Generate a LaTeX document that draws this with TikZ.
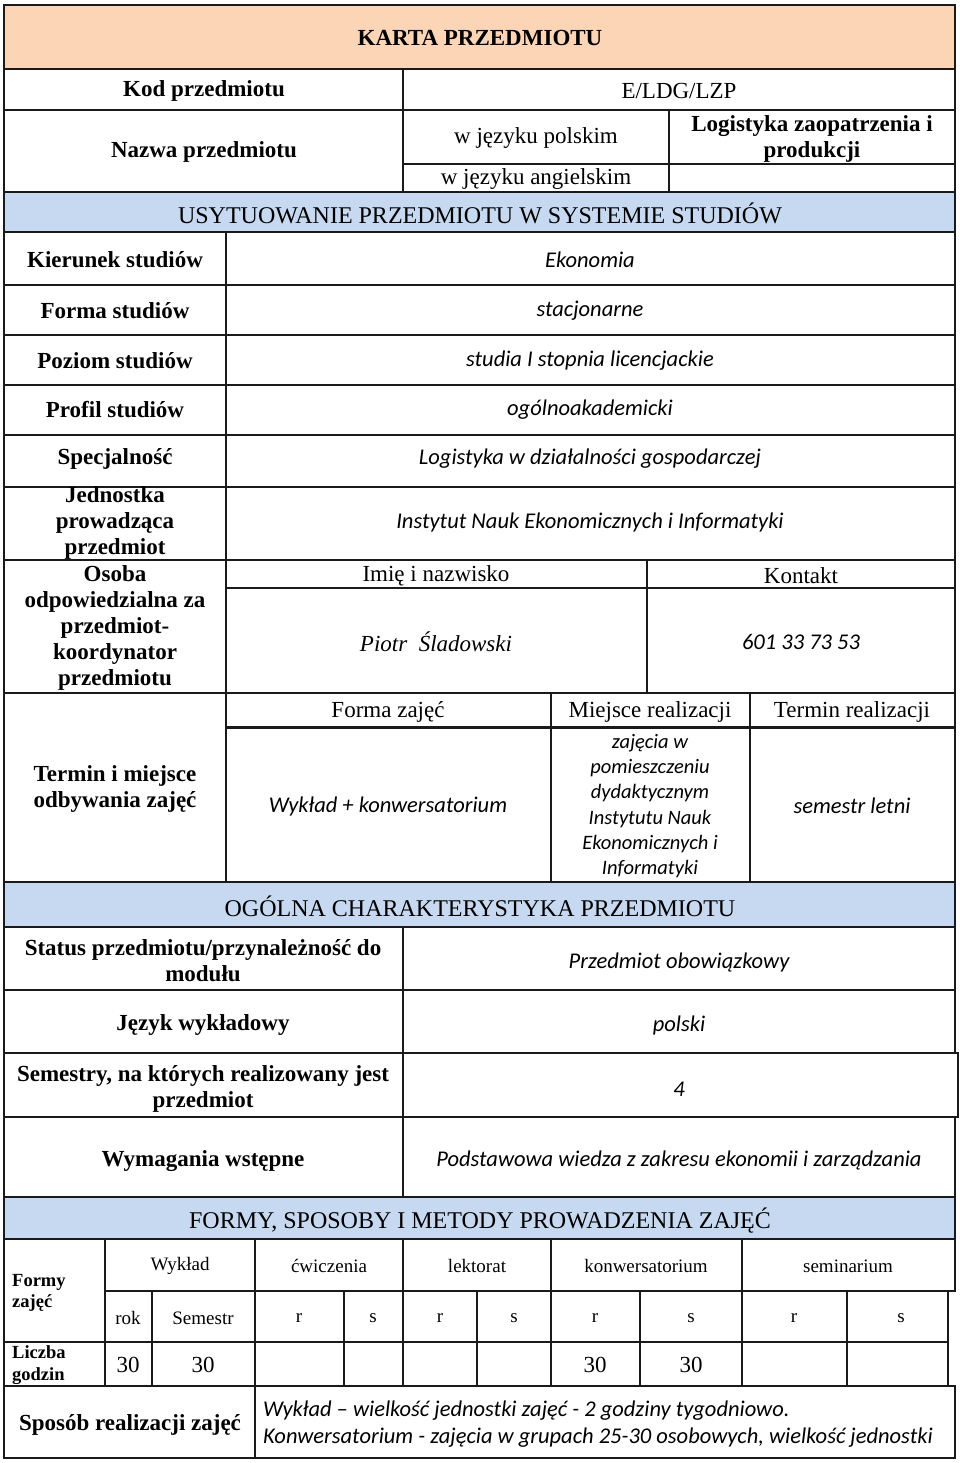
\documentclass[tikz,border=0pt]{standalone}
\usepackage{fontspec}
\setmainfont{Liberation Serif}
\newfontfamily\calfont{Carlito}
\definecolor{peach}{HTML}{FBD5B5}
\definecolor{bandblue}{HTML}{C6D9F1}
\definecolor{rule}{HTML}{1A1A1A}
\begin{document}
\begin{tikzpicture}[x=1pt,y=-1pt,
  grid/.style={line width=1.8pt, draw=rule, line cap=rect},
  thickgrid/.style={line width=3pt, draw=rule},
  lab/.style={font=\bfseries\fontsize{23}{26}\selectfont, align=center, inner sep=0pt},
  hdr/.style={font=\fontsize{23}{26}\selectfont, align=center, inner sep=0pt},
  band/.style={font=\fontsize{24}{27}\selectfont, align=center, inner sep=0pt},
  val/.style={font=\calfont\itshape\fontsize{22.5}{26}\selectfont, align=center, inner sep=0pt},
  valsm/.style={font=\calfont\itshape\fontsize{20.5}{25.2}\selectfont, align=center, inner sep=0pt},
  small/.style={font=\fontsize{19}{22}\selectfont, align=center, inner sep=0pt},
  smlab/.style={font=\bfseries\fontsize{18.5}{21.5}\selectfont, align=left, inner sep=0pt},
  num/.style={font=\fontsize{23}{26}\selectfont, align=center, inner sep=0pt}]
\useasboundingbox (0,0) rectangle (960,1463);
\fill[white] (0,0) rectangle (960,1463);
% fills
\fill[peach] (4,5) rectangle (955,69);
\fill[bandblue] (4,192) rectangle (955,232);
\fill[bandblue] (4,882) rectangle (955,927);
\fill[bandblue] (4,1197) rectangle (955,1239);
% outer
\draw[grid] (4,5) -- (955,5);
\draw[grid] (4,5) -- (4,1458);
\draw[grid] (955,5) -- (955,1053);
\draw[grid] (958,1053) -- (958,1117);
\draw[grid] (955,1117) -- (955,1291);
\draw[grid] (948,1291) -- (948,1386);
\draw[grid] (955,1386) -- (955,1458);
\draw[grid] (4,1458) -- (955,1458);
% horizontal full rows
\foreach \yy in {69,110,192,232,285,335,385,435,487,560,693,882,927,990,1197,1239}
  \draw[grid] (4,\yy) -- (955,\yy);
\draw[grid] (4,1053) -- (958,1053);
\draw[grid] (4,1117) -- (958,1117);
\draw[grid] (105,1291) -- (955,1291);
\draw[grid] (4,1342) -- (948,1342);
\draw[grid] (4,1386) -- (955,1386);
% top section
\draw[grid] (403,69) -- (403,192);
\draw[grid] (669,110) -- (669,192);
\draw[grid] (403,164) -- (955,164);
% usytuowanie
\draw[grid] (226,232) -- (226,882);
\draw[grid] (226,588) -- (955,588);
\draw[grid] (647,560) -- (647,693);
\draw[grid] (551,693) -- (551,882);
\draw[grid] (750,693) -- (750,882);
\draw[thickgrid] (226,727) -- (955,727);
% ogolna
\draw[grid] (403,927) -- (403,1197);
% formy
\draw[grid] (105,1239) -- (105,1386);
\draw[grid] (255,1239) -- (255,1458);
\draw[grid] (403,1239) -- (403,1386);
\draw[grid] (551,1239) -- (551,1386);
\draw[grid] (742,1239) -- (742,1386);
\foreach \xx in {152,344,477,640,847}
  \draw[grid] (\xx,1291) -- (\xx,1386);

% texts
\node[lab] (title) at (480,38) {KARTA PRZEDMIOTU};
\node[lab] (kod) at (204,91) {Kod przedmiotu};
\node[hdr] (kodv) at (679,91) {E/LDG/LZP};
\node[lab] (nazwa) at (204,152) {Nazwa przedmiotu};
\node[hdr] (wpl) at (536,138) {w języku polskim};
\node[hdr] (wang) at (536,179) {w języku angielskim};
\node[lab] (nazpl) at (812,139) {Logistyka zaopatrzenia i\\produkcji};
\node[band] (usyt) at (480,213) {USYTUOWANIE PRZEDMIOTU W SYSTEMIE STUDIÓW};

\node[lab] (kier) at (115,260) {Kierunek studiów};
\node[val] (kierv) at (590,260) {Ekonomia};
\node[lab] (forma) at (115,311) {Forma studiów};
\node[val] (formav) at (590,311) {stacjonarne};
\node[lab] (poz) at (115,361) {Poziom studiów};
\node[val] (pozv) at (590,361) {studia I stopnia licencjackie};
\node[lab] (prof) at (115,410) {Profil studiów};
\node[val] (profv) at (590,410) {ogólnoakademicki};
\node[lab] (spec) at (115,459) {Specjalność};
\node[val] (specv) at (590,459) {Logistyka w działalności gospodarczej};
\node[lab] (jedn) at (115,523) {Jednostka\\prowadząca\\przedmiot};
\node[val] (jednv) at (590,522) {Instytut Nauk Ekonomicznych i Informatyki};
\node[lab] (osoba) at (115,628) {Osoba\\odpowiedzialna za\\przedmiot-\\koordynator\\przedmiotu};
\node[hdr] (imie) at (436,576) {Imię i nazwisko};
\node[hdr] (kont) at (801,576) {Kontakt};
\node[font=\itshape\fontsize{23}{26}\selectfont, inner sep=0pt] (piotr) at (436,642) {Piotr\ \ Śladowski};
\node[val] (tel) at (801,642) {601 33 73 53};
\node[lab] (termin) at (115,789) {Termin i miejsce\\odbywania zajęć};
\node[hdr] (fzaj) at (388,712) {Forma zajęć};
\node[hdr] (miej) at (650,712) {Miejsce realizacji};
\node[hdr] (term) at (852,712) {Termin realizacji};
\node[val] (wykl) at (388,806) {Wykład + konwersatorium};
\node[valsm] (miejv) at (650,806) {zajęcia w\\pomieszczeniu\\dydaktycznym\\Instytutu Nauk\\Ekonomicznych i\\Informatyki};
\node[val] (termv) at (852,806) {semestr letni};
\node[band] (ogol) at (480,906) {OGÓLNA CHARAKTERYSTYKA PRZEDMIOTU};

\node[lab] (status) at (203,961) {Status przedmiotu/przynależność do\\modułu};
\node[val] (statusv) at (679,962) {Przedmiot obowiązkowy};
\node[lab] (jez) at (203,1025) {Język wykładowy};
\node[val] (jezv) at (679,1025) {polski};
\node[lab] (sem) at (203,1089) {Semestry, na których realizowany jest\\przedmiot};
\node[val] (semv) at (679,1089) {4};
\node[lab] (wym) at (203,1161) {Wymagania wstępne};
\node[val] (wymv) at (679,1160) {Podstawowa wiedza z zakresu ekonomii i zarządzania};
\node[band] (formy) at (480,1221) {FORMY, SPOSOBY I METODY PROWADZENIA ZAJĘĆ};

\node[smlab, anchor=west] (fz) at (12,1293) {Formy\\zajęć};
\node[small] (h1) at (180,1266) {Wykład};
\node[small] (h2) at (329,1266) {ćwiczenia};
\node[small] (h3) at (477,1266) {lektorat};
\node[small] (h4) at (646,1266) {konwersatorium};
\node[small] (h5) at (848,1266) {seminarium};
\node[small] (s1) at (128,1318) {rok};
\node[small] (s2) at (203,1318) {Semestr};
\node[small] (s3) at (299,1318) {r};
\node[small] (s4) at (373,1318) {s};
\node[small] (s5) at (440,1318) {r};
\node[small] (s6) at (514,1318) {s};
\node[small] (s7) at (595,1318) {r};
\node[small] (s8) at (691,1318) {s};
\node[small] (s9) at (794,1318) {r};
\node[small] (s10) at (901,1318) {s};
\node[smlab, anchor=west] (lg) at (12,1365) {Liczba\\godzin};
\node[num] (n1) at (128,1365) {30};
\node[num] (n2) at (203,1365) {30};
\node[num] (n3) at (595,1365) {30};
\node[num] (n4) at (691,1365) {30};
\node[lab] (spos) at (130,1425) {Sposób realizacji zajęć};
\node[val, align=left, anchor=west, font=\calfont\itshape\fontsize{22.5}{27}\selectfont] (sposv) at (263,1424) {Wykład – wielkość jednostki zajęć - 2 godziny tygodniowo.\\Konwersatorium - zajęcia w grupach 25-30 osobowych, wielkość jednostki};
\end{tikzpicture}
\end{document}
